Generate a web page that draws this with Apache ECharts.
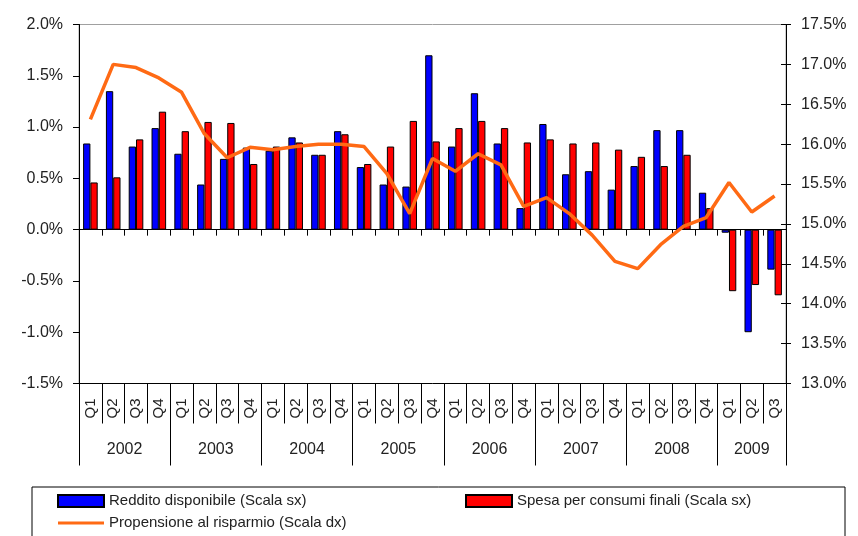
<!DOCTYPE html>
<html>
<head>
<meta charset="utf-8">
<script src="https://cdn.jsdelivr.net/npm/echarts@6/dist/echarts.min.js"></script>
<style>
  html, body { margin: 0; padding: 0; background: #fff; }
  #main { width: 858px; height: 536px; }
</style>
</head>
<body>
<div id="main"></div>
<script>
// anni e trimestri (2002 Q1 - 2009 Q3)
const years = ['2002', '2003', '2004', '2005', '2006', '2007', '2008', '2009'];
const quartersPerYear = [4, 4, 4, 4, 4, 4, 4, 3];
const quarters = [
  'Q1', 'Q2', 'Q3', 'Q4', 'Q1', 'Q2', 'Q3', 'Q4', 'Q1', 'Q2', 'Q3', 'Q4',
  'Q1', 'Q2', 'Q3', 'Q4', 'Q1', 'Q2', 'Q3', 'Q4', 'Q1', 'Q2', 'Q3', 'Q4',
  'Q1', 'Q2', 'Q3', 'Q4', 'Q1', 'Q2', 'Q3'
];

// variazioni % (scala sx)
const reddito = [
  0.84, 1.35, 0.81, 0.99,
  0.74, 0.44, 0.69, 0.80,
  0.77, 0.90, 0.73, 0.96,
  0.61, 0.44, 0.42, 1.70,
  0.81, 1.33, 0.84, 0.21,
  1.03, 0.54, 0.57, 0.39,
  0.62, 0.97, 0.97, 0.36,
  -0.03, -1.00, -0.39
];
const spesa = [
  0.46, 0.51, 0.88, 1.15,
  0.96, 1.05, 1.04, 0.64,
  0.81, 0.85, 0.73, 0.93,
  0.64, 0.81, 1.06, 0.86,
  0.99, 1.06, 0.99, 0.85,
  0.88, 0.84, 0.85, 0.78,
  0.71, 0.62, 0.73, 0.21,
  -0.60, -0.54, -0.64
];
// livello % (scala dx)
const propensione = [
  16.31, 17.00, 16.96, 16.83,
  16.65, 16.13, 15.83, 15.96,
  15.93, 15.97, 16.00, 16.00,
  15.97, 15.63, 15.13, 15.82,
  15.66, 15.88, 15.74, 15.22,
  15.33, 15.13, 14.86, 14.53,
  14.44, 14.74, 14.97, 15.08,
  15.52, 15.15, 15.35
];

// scale
const leftAxis = { min: -1.5, max: 2.0, step: 0.5 };
const rightAxis = { min: 13.0, max: 17.5, step: 0.5 };

// confini e centri degli anni (in unità di trimestre)
const yearBounds = [0];
const yearCenters = [];
quartersPerYear.forEach((n, i) => {
  yearCenters.push(yearBounds[i] + n / 2);
  yearBounds.push(yearBounds[i] + n);
});

const FONT = 'Liberation Sans, Arial, sans-serif';
const txt = '#222';

const chart = echarts.init(document.getElementById('main'));
chart.setOption({
  animation: false,
  grid: {
    left: 79, right: 72, top: 24.5, bottom: 152.5,
    show: true, borderColor: '#a0a0a0', borderWidth: 1,
    outerBoundsMode: 'none'
  },
  legend: {
    left: 32, top: 487,
    orient: 'horizontal',
    padding: [5, 18, 10, 25],
    itemGap: 4,
    itemWidth: 46, itemHeight: 12,
    borderColor: '#000', borderWidth: 1,
    textStyle: { fontFamily: FONT, fontSize: 15, color: txt, width: 352, lineHeight: 18 },
    data: [
      { name: 'Reddito disponibile (Scala sx)', icon: 'rect' },
      { name: 'Spesa per consumi finali (Scala sx)', icon: 'rect', textStyle: { width: 310 } },
      { name: 'Propensione al risparmio (Scala dx)', icon: 'path://M0,0 L46,0 L46,3 L0,3 Z' }
    ]
  },
  xAxis: [
    {
      // trimestri
      type: 'category', data: quarters, position: 'bottom',
      axisLine: { onZero: false, lineStyle: { color: '#000', width: 1 } },
      axisTick: { show: true, interval: 0, length: 40, lineStyle: { color: '#000', width: 1 } },
      axisLabel: { interval: 0, rotate: 90, margin: 15, fontFamily: FONT, fontSize: 15, color: txt },
      splitLine: { show: false }
    },
    {
      // anni
      type: 'value', min: 0, max: quarters.length, position: 'bottom',
      axisLine: { show: false, onZero: false },
      splitLine: { show: false },
      axisTick: { show: true, customValues: yearBounds, length: 82, lineStyle: { color: '#000', width: 1 } },
      axisLabel: {
        customValues: yearCenters, margin: 58,
        fontFamily: FONT, fontSize: 16, color: txt,
        formatter: v => years[yearCenters.indexOf(v)] || ''
      }
    },
    {
      // linea dello zero
      type: 'category', data: quarters, position: 'bottom',
      axisLine: { onZero: true, onZeroAxisIndex: 0, lineStyle: { color: '#000', width: 1 } },
      axisTick: { show: true, interval: 0, length: 6, lineStyle: { color: '#000', width: 1 } },
      axisLabel: { show: false },
      splitLine: { show: false }
    }
  ],
  yAxis: [
    {
      type: 'value', position: 'left',
      min: leftAxis.min, max: leftAxis.max, interval: leftAxis.step,
      axisLine: { show: true, lineStyle: { color: '#000' } },
      axisTick: { show: true, length: 6, lineStyle: { color: '#000' } },
      axisLabel: { margin: 16, fontFamily: FONT, fontSize: 16, color: txt, formatter: v => v.toFixed(1) + '%' },
      splitLine: { show: false }
    },
    {
      type: 'value', position: 'right',
      min: rightAxis.min, max: rightAxis.max, interval: rightAxis.step,
      axisLine: { show: true, lineStyle: { color: '#000' } },
      axisTick: { show: true, length: 5, lineStyle: { color: '#000' } },
      axisLabel: { margin: 15, fontFamily: FONT, fontSize: 16, color: txt, formatter: v => v.toFixed(1) + '%' },
      splitLine: { show: false }
    },
    {
      // tacche interne dell'asse destro
      type: 'value', position: 'right',
      min: rightAxis.min, max: rightAxis.max, interval: rightAxis.step,
      axisLine: { show: false },
      axisTick: { show: true, inside: true, length: 5, lineStyle: { color: '#000' } },
      axisLabel: { show: false },
      splitLine: { show: false }
    }
  ],
  series: [
    {
      name: 'Reddito disponibile (Scala sx)', type: 'bar',
      xAxisIndex: 0, yAxisIndex: 0,
      data: reddito,
      barGap: '0%', barCategoryGap: '36%',
      itemStyle: { color: '#0000ff', borderColor: '#000', borderWidth: 1 }
    },
    {
      name: 'Spesa per consumi finali (Scala sx)', type: 'bar',
      xAxisIndex: 0, yAxisIndex: 0,
      data: spesa,
      barGap: '0%', barCategoryGap: '36%',
      itemStyle: { color: '#ff0000', borderColor: '#000', borderWidth: 1 }
    },
    {
      name: 'Propensione al risparmio (Scala dx)', type: 'line',
      xAxisIndex: 0, yAxisIndex: 1,
      data: propensione,
      symbol: 'none', z: 5,
      lineStyle: { color: '#ff6a14', width: 3.5 },
      itemStyle: { color: '#ff6a14' }
    }
  ]
});
</script>
</body>
</html>
